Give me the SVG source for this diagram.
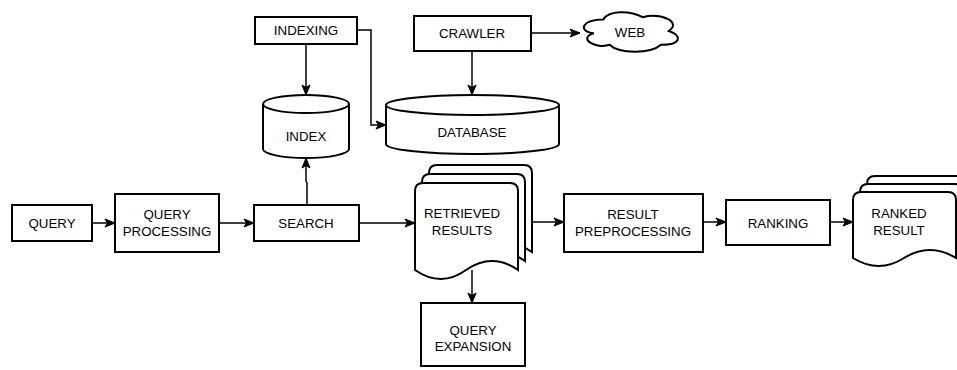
<svg xmlns="http://www.w3.org/2000/svg" width="957" height="370" viewBox="0 0 957 370">
<style>
.b{fill:#fff;stroke:#000;stroke-width:2}
.c{fill:none;stroke:#000;stroke-width:1.5}
text{font-family:"Liberation Sans",Arial,Helvetica,sans-serif;font-size:13.3px;fill:#000;text-anchor:middle}
</style>
<defs>
<marker id="a" markerUnits="userSpaceOnUse" markerWidth="12" markerHeight="10" viewBox="0 0 12 10" refX="11" refY="5" orient="auto">
<path d="M1,1 L11,5 L1,9 L3.5,5 Z" fill="#000" stroke="#000" stroke-width="1"/>
</marker>
</defs>
<rect width="957" height="370" fill="#fff"/>
<g id="connectors">
<path class="c" d="M92,223 L115,223" marker-end="url(#a)"/>
<path class="c" d="M219,223 L254,223" marker-end="url(#a)"/>
<path class="c" d="M307,205 L307,183 L306,181 L306,158" marker-end="url(#a)"/>
<path class="c" d="M359,223 L415,223" marker-end="url(#a)"/>
<path class="c" d="M532,222 L564,222" marker-end="url(#a)"/>
<path class="c" d="M703,222 L726,222" marker-end="url(#a)"/>
<path class="c" d="M830,222 L853,222" marker-end="url(#a)"/>
<path class="c" d="M472,270 L472,303" marker-end="url(#a)"/>
<path class="c" d="M306,44 L306,95" marker-end="url(#a)"/>
<path class="c" d="M357,30 L371,30 L371,125 L386,125" marker-end="url(#a)"/>
<path class="c" d="M472,51 L472,95" marker-end="url(#a)"/>
<path class="c" d="M531,33 L580,33" marker-end="url(#a)"/>
</g>
<g id="indexing">
<rect class="b" x="255" y="17" width="102" height="27"/>
<text x="306" y="35">INDEXING</text>
</g>
<g id="crawler">
<rect class="b" x="414" y="16" width="117" height="35"/>
<text x="472" y="38">CRAWLER</text>
</g>
<g id="web">
<path class="b" d="M603.25,19.5 C582.25,19.5 577,31 593.8,33.3 C577,38.4 595.9,49.4 609.55,44.8 C619,54 650.5,54 661,44.8 C682,44.8 682,35.6 668.9,31 C682,21.8 661,12.6 642.6,17.2 C629.5,10.3 608.5,10.3 603.25,19.5 Z"/>
<text x="630" y="37">WEB</text>
</g>
<g id="index">
<path class="b" d="M263,104 A43,9 0 0 1 349,104 L349,149 A43,9 0 0 1 263,149 Z"/>
<path class="b" fill="none" d="M263,104 A43,9 0 0 0 349,104"/>
<text x="306" y="141">INDEX</text>
</g>
<g id="database">
<path class="b" d="M386,105 A86.5,10 0 0 1 559,105 L559,144 A86.5,10 0 0 1 386,144 Z"/>
<path class="b" fill="none" d="M386,105 A86.5,10 0 0 0 559,105"/>
<text x="472" y="137">DATABASE</text>
</g>
<g id="query">
<rect class="b" x="12" y="205" width="80" height="36"/>
<text x="52" y="228">QUERY</text>
</g>
<g id="query-processing">
<rect class="b" x="115" y="194" width="104" height="58"/>
<text x="167" y="219">QUERY</text>
<text x="167" y="235.5">PROCESSING</text>
</g>
<g id="search">
<rect class="b" x="254" y="205" width="105" height="36"/>
<text x="306" y="228">SEARCH</text>
</g>
<g id="retrieved-results">
<path class="b" d="M429,173 Q429,165 437,165 L524,165 Q532,165 532,173 L532,252 Q506,234 480,252 Q455,270 429,252 Z"/>
<path class="b" d="M422,182 Q422,174 430,174 L517,174 Q525,174 525,182 L525,261 Q499,243 473,261 Q448,279 422,261 Z"/>
<path class="b" d="M415,191 Q415,183 423,183 L510,183 Q518,183 518,191 L518,270 Q492,252 466,270 Q441,288 415,270 Z"/>
<text x="462" y="218">RETRIEVED</text>
<text x="462" y="234.5">RESULTS</text>
</g>
<g id="query-expansion">
<rect class="b" x="421" y="303" width="104" height="63"/>
<text x="473" y="334.5">QUERY</text>
<text x="473" y="350.5">EXPANSION</text>
</g>
<g id="result-preprocessing">
<rect class="b" x="564" y="194" width="139" height="58"/>
<text x="633" y="219">RESULT</text>
<text x="633" y="235.5">PREPROCESSING</text>
</g>
<g id="ranking">
<rect class="b" x="726" y="200" width="104" height="45"/>
<text x="778" y="228">RANKING</text>
</g>
<g id="ranked-result">
<path class="b" d="M867,184 Q867,176 875,176 L962,176 Q970,176 970,184 L970,242 Q944,226 918,242 Q893,258 867,242 Z"/>
<path class="b" d="M860,192 Q860,184 868,184 L955,184 Q963,184 963,192 L963,250 Q937,234 911,250 Q886,266 860,250 Z"/>
<path class="b" d="M853,200 Q853,192 861,192 L948,192 Q956,192 956,200 L956,258 Q930,242 904,258 Q879,274 853,258 Z"/>
<text x="899" y="218">RANKED</text>
<text x="899" y="234.5">RESULT</text>
</g>
</svg>
